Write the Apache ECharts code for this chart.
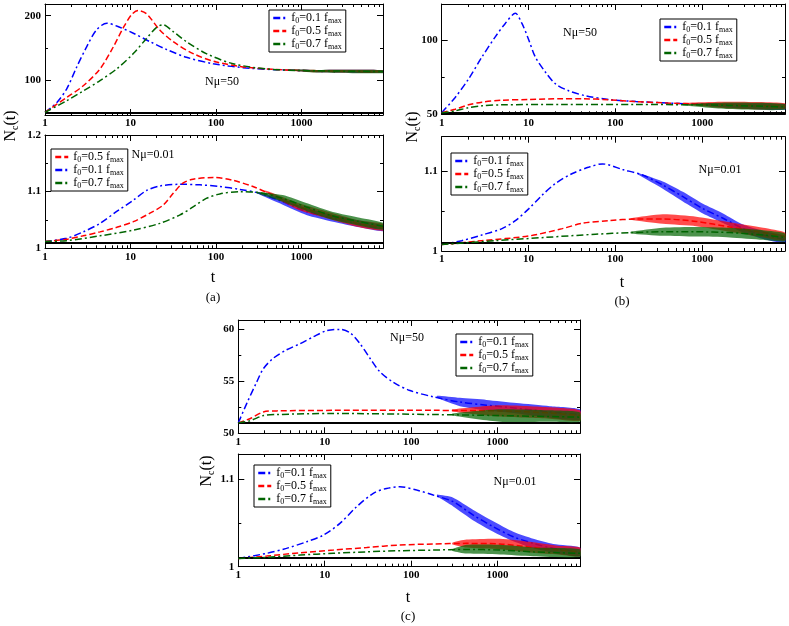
<!DOCTYPE html>
<html><head><meta charset="utf-8">
<script src="https://cdn.jsdelivr.net/npm/echarts@6/dist/echarts.min.js"></script>
<style>html,body{margin:0;padding:0;background:#fff}#c{width:789px;height:626px}</style>
</head><body><div id="c"></div>
<script>
// ---------- DATA ----------
const S1 = 'f0=0.1 fmax', S5 = 'f0=0.5 fmax', S7 = 'f0=0.7 fmax';
const xMajorTicks = [1, 10, 100, 1000];
const xMinorTicks = [2,3,4,5,6,7,8,9,20,30,40,50,60,70,80,90,200,300,400,500,600,700,800,900,2000,3000,4000,5000,6000,7000,8000,9000];
const tMin = 1, tMax = 9000;

// (a) top, N mu = 50
const aTopBlue  = [[1,51],[1.37,66],[1.79,87],[2.35,121],[3.07,152],[4.0,178],[5.3,188.5],[6.9,184],[10.8,173],[16.9,160],[26.4,148],[45,136],[93,126],[248,119],[955,115.6],[9000,114]];
const aTopRed   = [[1,51],[1.79,74],[2.8,92],[4.4,118],[6.3,152],[8.2,181],[10.3,201.6],[12.3,208],[15.4,203],[22,178],[31.6,160],[54,141.6],[101,128.6],[248,120],[1000,115.5],[9000,114]];
const aTopGreen = [[1,51],[1.79,69],[2.8,84],[4.4,100],[6.9,118],[10.8,141.6],[15.4,165],[20.2,182],[24,186],[31.6,175.5],[45,160],[77,141.6],[158,126],[390,118],[1000,115.5],[9000,114]];
const aTopBlueNoise  = [[500,116.6,117.2],[1500,113,116.5],[9000,112,116]];
const aTopRedNoise   = [[600,116.3,117.1],[1500,112.8,116.5],[9000,112,116]];
const aTopGreenNoise = [[700,116,116.9],[1500,112.5,116.5],[9000,111.5,116]];
const aTopY = { min: 47, max: 218, major: [100, 200], minor: [50, 150], base: 51 };

// (a) bottom, N mu = 0.01
const aBotBlue  = [[1,1.012],[1.79,1.0176],[2.8,1.029],[4.4,1.044],[6.9,1.065],[10.8,1.085],[15.4,1.102],[22,1.110],[38,1.113],[65,1.112],[111,1.109],[190,1.104],[325,1.097],[605,1.082],[1140,1.065],[2340,1.053],[4800,1.043],[9000,1.035]];
const aBotRed   = [[1,1.012],[1.79,1.016],[2.8,1.022],[4.4,1.029],[6.9,1.037],[10.8,1.047],[16.9,1.062],[24,1.076],[31.6,1.097],[41,1.115],[54,1.122],[93,1.125],[158,1.120],[271,1.109],[465,1.094],[955,1.073],[2340,1.056],[4800,1.043],[9000,1.037]];
const aBotGreen = [[1,1.012],[1.79,1.0135],[4.4,1.022],[10.8,1.032],[22,1.044],[38,1.059],[54,1.073],[77,1.088],[111,1.096],[190,1.100],[325,1.098],[605,1.088],[1140,1.073],[2340,1.057],[4800,1.047],[9000,1.039]];
const aBotBlueNoise  = [[300,1.097,1.1],[605,1.077,1.087],[1140,1.059,1.071],[2340,1.047,1.059],[4800,1.037,1.049],[9000,1.030,1.040]];
const aBotRedNoise   = [[380,1.099,1.102],[955,1.067,1.079],[2340,1.050,1.062],[4800,1.037,1.049],[9000,1.031,1.043]];
const aBotGreenNoise = [[300,1.097,1.1],[605,1.082,1.094],[1140,1.066,1.080],[2340,1.050,1.064],[4800,1.040,1.054],[9000,1.033,1.045]];
const aBotY = { min: 1, max: 1.2, major: [1, 1.1, 1.2], minor: [1.05, 1.15], base: 1.01 };

// (b) top, N mu = 50
const bTopBlue  = [[1,51.1],[1.43,61.4],[2.04,73.9],[2.9,88.6],[4.14,102.3],[5.4,111.4],[7.06,118.2],[8.4,111.4],[10.1,100],[12,88.6],[15.7,78.4],[20.5,70.5],[29,65.9],[45.6,62.5],[85,60],[173,58.6],[548,57.3],[2080,56.1],[9000,55]];
const bTopRed   = [[1,51],[1.43,53.4],[2.04,56.4],[2.9,58.2],[4.9,59.5],[10.1,60],[24.5,60.5],[41.5,60.5],[85,59.8],[173,58.6],[548,57.3],[2000,56.2],[9000,55.5]];
const bTopGreen = [[1,51],[1.43,52.3],[2.04,54.5],[2.9,55.7],[4.9,56.4],[24.5,56.6],[173,56.6],[800,56.4],[2000,56],[9000,55]];
const bTopBlueNoise  = [[800,56.6,57.3],[2000,54.5,57.5],[9000,53,57]];
const bTopRedNoise   = [[600,56.8,57.7],[2000,54,58.5],[9000,53.5,57.5]];
const bTopGreenNoise = [[600,56.1,56.8],[2000,53.5,58],[9000,53,57]];
const bTopY = { min: 50, max: 124.5, major: [50, 100], minor: [75], base: 51 };

// (b) bottom, N mu = 0.01
const bBotBlue  = [[1,1.008],[1.7,1.0129],[2.9,1.02],[4.95,1.028],[7.06,1.038],[10.1,1.053],[14.4,1.07],[20.5,1.0846],[32,1.097],[50,1.105],[71,1.109],[121,1.102],[206,1.095],[352,1.0825],[600,1.068],[1020,1.053],[1740,1.041],[2970,1.028],[5040,1.02],[9000,1.0146]];
const bBotRed   = [[1,1.008],[2.9,1.0129],[10.1,1.0188],[24.5,1.028],[41.5,1.0346],[85,1.038],[173,1.04],[352,1.04],[854,1.037],[2080,1.030],[5040,1.023],[9000,1.018]];
const bBotGreen = [[1,1.008],[4.14,1.0129],[15.7,1.017],[59,1.021],[145,1.023],[352,1.024],[854,1.024],[2080,1.023],[5040,1.02],[9000,1.017]];
const bBotBlueNoise  = [[180,1.096,1.098],[352,1.078,1.087],[600,1.062,1.074],[1020,1.047,1.059],[1740,1.035,1.047],[2970,1.023,1.033],[5040,1.015,1.025],[9000,1.010,1.019]];
const bBotRedNoise   = [[150,1.039,1.041],[352,1.034,1.046],[854,1.031,1.043],[2080,1.024,1.036],[5040,1.017,1.029],[9000,1.013,1.023]];
const bBotGreenNoise = [[150,1.022,1.024],[352,1.019,1.029],[854,1.018,1.030],[2080,1.017,1.029],[5040,1.014,1.026],[9000,1.012,1.022]];
const bBotY = { min: 1, max: 1.143, major: [1, 1.1], minor: [1.05], base: 1.008 };

// (c) top, N mu = 50
const cTopBlue  = [[1,51],[1.25,52.85],[1.63,54.9],[1.95,56.2],[2.54,57.2],[3.6,58],[5.2,58.6],[7.4,59.26],[10.5,59.84],[15,59.97],[19.6,59.65],[25.6,58.6],[33.4,57.2],[43.5,55.9],[62,54.9],[97,54.1],[180,53.5],[367,53.0],[747,52.7],[1660,52.4],[4030,52.05],[9000,51.8]];
const cTopRed   = [[1,51],[1.36,51.4],[1.95,52.05],[2.78,52.15],[12.6,52.2],[180,52.2],[1065,52.15],[4030,51.95],[9000,51.7]];
const cTopGreen = [[1,51],[1.36,51.2],[1.95,51.7],[2.78,51.8],[12.6,51.9],[180,51.8],[1065,51.7],[9000,51.55]];
const cTopBlueNoise  = [[200,53.4,53.6],[367,52.6,53.4],[747,52.2,53.2],[1660,51.9,52.9],[4030,51.5,52.6],[9000,51.3,52.3]];
const cTopRedNoise   = [[300,52.1,52.3],[1065,51.6,52.7],[4030,51.4,52.5],[9000,51.2,52.2]];
const cTopGreenNoise = [[300,51.7,51.9],[1065,51.1,52.3],[4030,51.1,52.2],[9000,51.1,52]];
const cTopY = { min: 50, max: 60.87, major: [50, 55, 60], minor: [52.5, 57.5], base: 51 };

// (c) bottom, N mu = 0.01
const cBotBlue  = [[1,1.0095],[2.13,1.0153],[3.6,1.021],[6.2,1.0286],[9.6,1.036],[15,1.0496],[23.4,1.0686],[36.5,1.084],[52,1.0896],[74,1.0915],[116,1.0877],[180,1.082],[307,1.0744],[524,1.059],[892,1.0458],[1520,1.0343],[2590,1.0267],[4410,1.021],[9000,1.017]];
const cBotRed   = [[1,1.0095],[2.13,1.0122],[5.2,1.016],[12.6,1.019],[30.6,1.022],[74,1.0248],[180,1.026],[437,1.0267],[1065,1.026],[2590,1.022],[5040,1.019],[9000,1.017]];
const cBotGreen = [[1,1.0095],[2.13,1.0107],[5.2,1.0133],[12.6,1.0153],[30.6,1.017],[74,1.0183],[180,1.019],[437,1.0198],[1065,1.019],[2590,1.017],[5040,1.016],[9000,1.0153]];
const cBotBlueNoise  = [[200,1.0805,1.0825],[307,1.069,1.079],[524,1.053,1.065],[892,1.040,1.052],[1520,1.029,1.040],[2590,1.021,1.032],[4410,1.016,1.026],[9000,1.012,1.022]];
const cBotRedNoise   = [[300,1.0255,1.0275],[437,1.022,1.031],[1065,1.020,1.032],[2590,1.016,1.028],[5040,1.014,1.024],[9000,1.012,1.022]];
const cBotGreenNoise = [[300,1.018,1.020],[437,1.015,1.025],[1065,1.014,1.025],[2590,1.012,1.022],[9000,1.011,1.020]];
const cBotY = { min: 1, max: 1.129, major: [1, 1.1], minor: [1.05], base: 1.01 };

const muTop = 'Nμ=50', muBot = 'Nμ=0.01';

// ---------- LAYOUT / STYLE ----------
const FONT = '"Liberation Serif", "DejaVu Serif", serif';
const STY = {};
STY[S1] = { color: '#0000ff', type: [7, 3, 2, 3] };
STY[S5] = { color: '#ff0000', type: [6, 3] };
STY[S7] = { color: '#006400', type: [7, 3, 2, 3] };

const panels = [
  { box: [45, 4, 338, 111], y: aTopY, curves: [[S1, aTopBlue, aTopBlueNoise], [S5, aTopRed, aTopRedNoise], [S7, aTopGreen, aTopGreenNoise]],
    legend: [S1, S5, S7], lg: [269, 10], note: muTop, np: [222, 82] },
  { box: [45, 135, 338, 113.3], y: aBotY, curves: [[S1, aBotBlue, aBotBlueNoise], [S5, aBotRed, aBotRedNoise], [S7, aBotGreen, aBotGreenNoise]],
    legend: [S5, S1, S7], lg: [51, 149], note: muBot, np: [153, 155] },
  { box: [441.7, 4, 343.3, 110.3], y: bTopY, curves: [[S1, bTopBlue, bTopBlueNoise], [S5, bTopRed, bTopRedNoise], [S7, bTopGreen, bTopGreenNoise]],
    legend: [S1, S5, S7], lg: [660, 19], note: muTop, np: [580, 33] },
  { box: [441.7, 136.7, 343.3, 114.3], y: bBotY, curves: [[S1, bBotBlue, bBotBlueNoise], [S5, bBotRed, bBotRedNoise], [S7, bBotGreen, bBotGreenNoise]],
    legend: [S1, S5, S7], lg: [451, 153], note: muBot, np: [720, 170] },
  { box: [238.3, 320, 341.7, 113.3], y: cTopY, curves: [[S1, cTopBlue, cTopBlueNoise], [S5, cTopRed, cTopRedNoise], [S7, cTopGreen, cTopGreenNoise]],
    legend: [S1, S5, S7], lg: [456, 334], note: muTop, np: [407, 338] },
  { box: [238.3, 454, 341.7, 112.7], y: cBotY, curves: [[S1, cBotBlue, cBotBlueNoise], [S5, cBotRed, cBotRedNoise], [S7, cBotGreen, cBotGreenNoise]],
    legend: [S1, S5, S7], lg: [254, 465], note: muBot, np: [515, 482] }
];

const BLACK = { color: '#000', width: 1 };
const TICKFONT = { color: '#000', fontFamily: FONT, fontSize: 11, fontWeight: 'bold' };
function mkX(gi, pos, labels) {
  return {
    type: 'log', logBase: 10, gridIndex: gi, position: pos, min: tMin, max: tMax,
    axisLine: { show: true, onZero: false, lineStyle: BLACK },
    axisTick: { show: true, inside: true, length: 6, lineStyle: BLACK },
    minorTick: { show: false },
    axisLabel: Object.assign({ show: labels, margin: 3,
      formatter: v => { const r = Math.round(v); return xMajorTicks.indexOf(r) >= 0 ? String(r) : ''; } }, TICKFONT),
    splitLine: { show: false }, minorSplitLine: { show: false }
  };
}
function mkY(gi, pos, Y, labels) {
  return {
    type: 'value', gridIndex: gi, position: pos, min: Y.min, max: Y.max,
    axisLine: { show: true, onZero: false, lineStyle: BLACK },
    axisTick: { show: true, inside: true, length: 6, lineStyle: BLACK, customValues: Y.major },
    axisLabel: Object.assign({ show: labels, customValues: Y.major, margin: 4, formatter: v => String(v) }, TICKFONT),
    splitLine: { show: false }
  };
}
function mkYMinor(gi, pos, Y) {
  return {
    type: 'value', gridIndex: gi, position: pos, min: Y.min, max: Y.max,
    axisLine: { show: false, onZero: false },
    axisTick: { show: true, inside: true, length: 3, lineStyle: BLACK, customValues: Y.minor },
    axisLabel: { show: false }, splitLine: { show: false }
  };
}

const grids = [], xAxes = [], yAxes = [], series = [], legends = [], graphics = [];
panels.forEach((p, gi) => {
  grids.push({ left: p.box[0], top: p.box[1], width: p.box[2], height: p.box[3], containLabel: false, outerBoundsMode: 'none' });
  const xi = xAxes.length;
  xAxes.push(mkX(gi, 'bottom', true));
  xAxes.push(mkX(gi, 'top', false));
  const yi = yAxes.length;
  yAxes.push(mkY(gi, 'left', p.y, true));
  yAxes.push(mkY(gi, 'right', p.y, false));
  yAxes.push(mkYMinor(gi, 'left', p.y));
  yAxes.push(mkYMinor(gi, 'right', p.y));

  // minor log ticks on bottom and top edges, placed by the x axis scale
  const yMinVal = p.y.min;
  series.push({
    type: 'custom', xAxisIndex: xi, yAxisIndex: yi, silent: true, animation: false, z: 20, clip: false,
    data: xMinorTicks.map(t => [t, yMinVal]), encode: { x: 0, y: 1 },
    renderItem: (params, api) => {
      const pt = api.coord([api.value(0), yMinVal]);
      const cs = params.coordSys;
      const x = Math.round(pt[0]) + 0.5;
      if (x <= cs.x + 1 || x >= cs.x + cs.width - 1) return null;
      return { type: 'group', children: [
        { type: 'line', shape: { x1: x, y1: cs.y + cs.height, x2: x, y2: cs.y + cs.height - 3 }, style: { stroke: '#000', lineWidth: 1 } },
        { type: 'line', shape: { x1: x, y1: cs.y, x2: x, y2: cs.y + 3 }, style: { stroke: '#000', lineWidth: 1 } }
      ] };
    }
  });

  p.curves.forEach((c, k) => {
    const st = STY[c[0]];
    const s = {
      type: 'line', name: c[0], xAxisIndex: xi, yAxisIndex: yi, data: c[1],
      symbol: 'none', smooth: 0.3, silent: true, animation: false, z: 3 + k,
      lineStyle: { color: st.color, width: 1.5, type: st.type }, itemStyle: { color: st.color }
    };
    if (k === 0) {
      s.markLine = { silent: true, symbol: ['none', 'none'], label: { show: false }, animation: false,
        lineStyle: { color: '#000', width: 2.2, type: 'solid' }, data: [{ yAxis: p.y.base }] };
    }
    series.push(s);
    const band = c[2];
    series.push({
      type: 'custom', xAxisIndex: xi, yAxisIndex: yi, silent: true, animation: false, z: 3 + k, clip: true,
      data: band, encode: { x: 0, y: [1, 2] },
      renderItem: (params, api) => {
        if (params.dataIndex !== 0) return null;
        const up = band.map(r => api.coord([r[0], r[2]]));
        const lo = band.map(r => api.coord([r[0], r[1]])).reverse();
        return { type: 'polygon', shape: { points: up.concat(lo), smooth: 0.2 }, style: { fill: st.color, opacity: 0.7 } };
      }
    });
  });
  legends.push({
    orient: 'vertical', left: p.lg[0], top: p.lg[1], itemWidth: 13, itemHeight: 2, itemGap: 0,
    padding: [2, 4, 1, 3], borderColor: '#000', borderWidth: 1, borderRadius: 0, backgroundColor: '#fff',
    selectedMode: false, data: p.legend, itemStyle: { opacity: 0 }, lineStyle: { width: 2.5 }, z: 30,
    formatter: name => { const v = name.match(/0\.\d/)[0]; return '{n|f}{s|0}{n|=' + v + ' f}{s|max}'; },
    textStyle: { color: '#000', fontFamily: FONT, fontSize: 12,
      rich: { n: { color: '#000', fontFamily: FONT, fontSize: 12, lineHeight: 15 },
              s: { color: '#000', fontFamily: FONT, fontSize: 8, padding: [6, 0, 0, 0] } } }
  });
  graphics.push({ type: 'text', x: p.np[0], y: p.np[1], z: 50,
    style: { text: p.note, fontFamily: FONT, fontSize: 12, fill: '#000', align: 'center', verticalAlign: 'middle' } });
});

function yName(x, y) {
  return { type: 'text', x: x, y: y, rotation: Math.PI / 2, z: 50,
    style: { text: '{a|N}{b|c}{a|(t)}', align: 'center', verticalAlign: 'middle',
      rich: { a: { fontFamily: FONT, fontSize: 16, fill: '#000' },
              b: { fontFamily: FONT, fontSize: 10, fill: '#000', padding: [8, 0, 0, 0] } } } };
}
function txt(x, y, t, fs) {
  return { type: 'text', x: x, y: y, z: 50,
    style: { text: t, fontFamily: FONT, fontSize: fs, fill: '#000', align: 'center', verticalAlign: 'middle' } };
}
graphics.push(yName(11, 126), yName(413, 127), yName(207, 471));
graphics.push(txt(213, 278, 't', 16), txt(622, 283, 't', 16), txt(408, 598, 't', 16));
graphics.push(txt(213, 298, '(a)', 13), txt(622, 302, '(b)', 13), txt(408, 617, '(c)', 13));

const chart = echarts.init(document.getElementById('c'), null, { renderer: 'canvas' });
chart.setOption({
  animation: false, backgroundColor: '#fff',
  grid: grids, xAxis: xAxes, yAxis: yAxes, series: series, legend: legends, graphic: graphics,
  tooltip: { show: false }
});
</script></body></html>
